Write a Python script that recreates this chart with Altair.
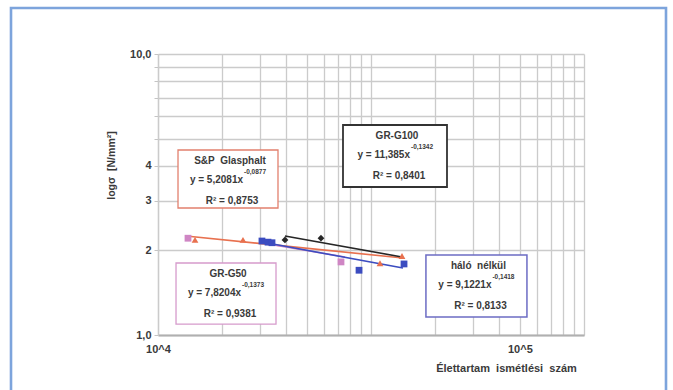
import altair as alt
import pandas as pd

# Fatigue test results: load cycles N and stress level sigma [N/mm2]
sp_n = [14920, 25060, 110200, 139800]
sp_s = [2.18, 2.18, 1.80, 1.91]
g50_n = [13830, 72300]
g50_s = [2.21, 1.82]
g100_n = [39450, 58230]
g100_s = [2.18, 2.21]
halo_n = [30770, 32850, 34290, 87860, 142900]
halo_s = [2.16, 2.14, 2.13, 1.70, 1.79]

series_names = ["S&P Glasphalt", "GR-G100", "GR-G50", "háló nélkül"]
line_colors = ["#e8714f", "#262626", "#cf86c4", "#3b4cc0"]
point_colors = ["#e0463c", "#1f2a7a", "#c47ab8", "#3346b8"]

# Power-law trend lines, start and end of each fitted segment
trend_n_start = [13535, 39450, 30770, 30770]
trend_n_end = [141300, 139800, 75500, 141300]
trend_s_start = [2.250, 2.250, 2.126, 2.143]
trend_s_end = [1.879, 1.895, 1.895, 1.731]

# Regression equation boxes (left/right in N, top/bottom in sigma)
box_n_left = [12415, 73880, 12150, 181100]
box_n_right = [36590, 227400, 35810, 539700]
box_s_top = [4.553, 5.589, 1.804, 1.926]
box_s_bottom = [2.831, 3.363, 1.094, 1.159]
box_colors = ["#e2806e", "#333333", "#d69bcc", "#6c6cc4"]
box_widths = [1.3, 1.8, 1.3, 1.5]
eq_main = ["y = 5,2081x", "y = 11,385x", "y = 7,8204x", "y = 9,1221x"]
eq_exp = ["-0,0877", "-0,1342", "-0,1373", "-0,1418"]
eq_r2 = ["R² = 0,8753", "R² = 0,8401", "R² = 0,9381", "R² = 0,8133"]

x_ticks = [k * 10 ** e for e in (4, 5) for k in range(1, 10)] + [10 ** 6]
y_ticks = list(range(1, 11))

FONT = "Liberation Sans"
TXT = "#3a3a3a"
GRID = "#cbcbcb"

rows = []
for name, n, s in [(series_names[0], sp_n, sp_s), (series_names[1], g100_n, g100_s),
                   (series_names[2], g50_n, g50_s), (series_names[3], halo_n, halo_s)]:
    for a, b in zip(n, s):
        rows.append({"series": name, "n": a, "s": b})
points = pd.DataFrame(rows)

trend_rows = []
for i, name in enumerate(series_names):
    trend_rows.append({"series": name, "n": trend_n_start[i], "s": trend_s_start[i], "o": 0})
    trend_rows.append({"series": name, "n": trend_n_end[i], "s": trend_s_end[i], "o": 1})
trends = pd.DataFrame(trend_rows)

boxes = pd.DataFrame({
    "series": series_names,
    "x1": box_n_left, "x2": box_n_right,
    "y1": box_s_top, "y2": box_s_bottom,
    "cx": [(a * b) ** 0.5 for a, b in zip(box_n_left, box_n_right)],
    "title": [t.replace(" ", "\u00a0\u00a0") for t in series_names],
    "eq": eq_main, "exp": eq_exp, "r2": eq_r2,
    "col": box_colors, "sw": box_widths,
})

x_scale = alt.Scale(type="log", domain=[1e4, 1e6], nice=False)
y_scale = alt.Scale(type="log", domain=[1, 10], nice=False)
color_lines = alt.Scale(domain=series_names, range=line_colors)
color_points = alt.Scale(domain=series_names, range=point_colors)

x_axis = alt.Axis(
    values=x_ticks,
    labelExpr="datum.value == 10000 ? '10^4' : (datum.value == 500000 ? '10^5' : '')",
    labelFlush=False, labelOverlap=False, ticks=False, labelPadding=8,
    labelFont=FONT, labelFontSize=11, labelFontWeight="bold", labelColor=TXT,
    domainColor="#b0b0b0", domainWidth=2,
    gridColor=GRID, gridWidth=1.3,
    title="Élettartam\u00a0\u00a0ismétlési\u00a0\u00a0szám",
    titleFont=FONT, titleFontSize=11, titleFontWeight="bold", titleColor=TXT,
    titleX=348, titleY=33, titleAlign="center", titleBaseline="middle",
)
y_axis = alt.Axis(
    values=y_ticks,
    labelExpr="datum.value == 1 ? '1,0' : datum.value == 10 ? '10,0' : "
              "datum.value == 2 ? '2' : datum.value == 3 ? '3' : datum.value == 4 ? '4' : ''",
    labelOverlap=False, tickSize=4, tickColor="#c4c4c4", labelPadding=3,
    labelFont=FONT, labelFontSize=11, labelFontWeight="bold", labelColor=TXT,
    domainColor=GRID, domainWidth=1.3,
    gridColor=GRID, gridWidth=1.3,
    title="logσ\u00a0\u00a0[N/mm²]",
    titleFont=FONT, titleFontSize=10.5, titleFontWeight="bold", titleColor=TXT,
    titleX=-47, titleY=111, titleAlign="center", titleBaseline="middle", titleAngle=-90,
)

base_axes = alt.Chart(points).mark_point(opacity=0).encode(
    x=alt.X("n:Q", scale=x_scale, axis=x_axis),
    y=alt.Y("s:Q", scale=y_scale, axis=y_axis),
)

trend_layer = alt.Chart(trends).mark_line(strokeWidth=1.6).encode(
    x=alt.X("n:Q", scale=x_scale),
    y=alt.Y("s:Q", scale=y_scale),
    detail="series:N",
    order="o:Q",
    color=alt.Color("series:N", scale=color_lines, legend=None),
)

point_shapes = alt.Scale(domain=series_names,
                         range=["triangle-up", "diamond", "square", "square"])
point_layer = alt.Chart(points).mark_point(filled=True, opacity=1, size=46).encode(
    x=alt.X("n:Q", scale=x_scale),
    y=alt.Y("s:Q", scale=y_scale),
    color=alt.Color("series:N", scale=color_points, legend=None),
    shape=alt.Shape("series:N", scale=point_shapes, legend=None),
)

box_layer = alt.Chart(boxes).mark_rect(fill="white", fillOpacity=1).encode(
    x=alt.X("x1:Q", scale=x_scale), x2="x2:Q",
    y=alt.Y("y1:Q", scale=y_scale), y2="y2:Q",
    stroke=alt.Stroke("col:N", scale=None),
    strokeWidth=alt.StrokeWidth("sw:Q", scale=None),
)

def box_text(field, dx, dy, size, align):
    return alt.Chart(boxes).mark_text(
        font=FONT, fontWeight="bold", fontSize=size, color=TXT,
        align=align, baseline="middle", dx=dx, dy=dy,
    ).encode(
        x=alt.X("cx:Q", scale=x_scale),
        y=alt.Y("y1:Q", scale=y_scale),
        text=f"{field}:N",
    )

titles = box_text("title", 2, 11, 10, "center")
eqs = box_text("eq", 15, 30, 10, "right")
exps = box_text("exp", 16, 22, 6.5, "left")
r2s = box_text("r2", 4, 51, 10, "center")

frame = alt.Chart(pd.DataFrame({"k": [0]})).mark_rect(
    fill=None, stroke="#7da4dc", strokeWidth=2.6
).encode(
    x=alt.value(-147), x2=alt.value(508),
    y=alt.value(-46), y2=alt.value(350),
)

chart = alt.layer(
    base_axes, trend_layer, point_layer, box_layer, titles, eqs, exps, r2s, frame
).properties(
    width=426, height=281,
    autosize=alt.AutoSizeParams(type="none"),
    padding={"left": 158, "top": 54, "right": 89, "bottom": 55},
    background="white",
).configure_view(stroke=None)

chart.save("out.html", embed_options={"renderer": "svg", "actions": False})
